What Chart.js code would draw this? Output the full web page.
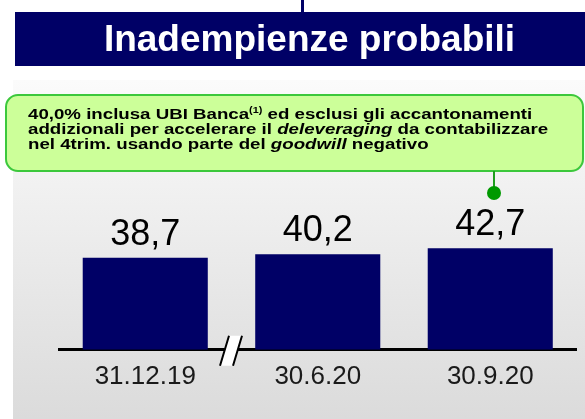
<!DOCTYPE html>
<html>
<head>
<meta charset="utf-8">
<script src="https://cdn.jsdelivr.net/npm/chart.js@4"></script>
<style>
  html, body { margin: 0; padding: 0; background: #fff; }
  canvas { display: block; }
</style>
</head>
<body>
<canvas id="myChart" width="585" height="419"></canvas>
<script>
const periods = ['31.12.19', '30.6.20', '30.9.20'];
const coverage = [38.7, 40.2, 42.7];

const titleText = 'Inadempienze probabili';
const noteLines = [
  [['40,0% inclusa UBI Banca', 'b'], ['(1)', 'sup'], [' ed esclusi gli accantonamenti', 'b']],
  [['addizionali per accelerare il ', 'b'], ['deleveraging', 'bi'], [' da contabilizzare', 'b']],
  [['nel 4trim. usando parte del ', 'b'], ['goodwill', 'bi'], [' negativo', 'b']],
];

const FONT = '"Liberation Sans", Arial, sans-serif';
const NAVY = '#000066';

const fmt = (v) => v.toFixed(1).replace('.', ',');

// page furniture: banner, grey panel, callout box
const backdrop = {
  id: 'backdrop',
  beforeDraw(chart) {
    const ctx = chart.ctx;
    ctx.save();
    ctx.fillStyle = '#fff';
    ctx.fillRect(0, 0, chart.width, chart.height);

    const grad = ctx.createLinearGradient(0, 80, 0, 419);
    grad.addColorStop(0, '#fbfbfb');
    grad.addColorStop(1, '#dbdbdb');
    ctx.fillStyle = grad;
    ctx.fillRect(13, 80, 572, 339);

    ctx.fillStyle = NAVY;
    ctx.fillRect(301, 0, 3, 13);
    ctx.fillRect(15, 12, 570, 54);
    ctx.fillStyle = '#fff';
    ctx.font = 'bold 37px ' + FONT;
    ctx.textAlign = 'center';
    ctx.textBaseline = 'alphabetic';
    ctx.fillText(titleText, 309.5, 51);

    // callout
    ctx.beginPath();
    ctx.roundRect(6, 95, 577, 76, 12);
    ctx.fillStyle = '#ccff99';
    ctx.fill();
    ctx.lineWidth = 2;
    ctx.strokeStyle = '#3cc83c';
    ctx.stroke();

    // note text is set a little wide
    ctx.textAlign = 'left';
    ctx.fillStyle = '#000';
    noteLines.forEach((runs, i) => {
      ctx.save();
      ctx.translate(28, 118.5 + i * 15);
      ctx.scale(1.205, 1);
      let x = 0;
      runs.forEach(([txt, style]) => {
        let dy = 0;
        if (style === 'sup') {
          ctx.font = 'bold 9px ' + FONT;
          dy = -6;
        } else if (style === 'bi') {
          ctx.font = 'italic bold 15.5px ' + FONT;
        } else {
          ctx.font = 'bold 15.5px ' + FONT;
        }
        ctx.fillText(txt, x, dy);
        x += ctx.measureText(txt).width;
      });
      ctx.restore();
    });

    ctx.strokeStyle = '#1e9e1e';
    ctx.lineWidth = 2;
    ctx.beginPath();
    ctx.moveTo(494, 171);
    ctx.lineTo(494, 193);
    ctx.stroke();
    ctx.fillStyle = '#009900';
    ctx.beginPath();
    ctx.arc(494, 193, 7, 0, Math.PI * 2);
    ctx.fill();
    ctx.restore();
  },
};

// value above each bar
const barValues = {
  id: 'barValues',
  afterDatasetsDraw(chart) {
    const ctx = chart.ctx;
    ctx.save();
    ctx.font = '36px ' + FONT;
    ctx.fillStyle = '#000';
    ctx.textAlign = 'center';
    ctx.textBaseline = 'alphabetic';
    chart.getDatasetMeta(0).data.forEach((bar, i) => {
      ctx.fillText(fmt(coverage[i]), bar.x, bar.y - 13);
    });
    ctx.restore();
  },
};

// axis break between first and second period
const axisBreak = {
  id: 'axisBreak',
  afterDraw(chart) {
    const ctx = chart.ctx;
    const xs = chart.scales.x;
    const cx = (xs.getPixelForValue(0) + xs.getPixelForValue(1)) / 2;
    const cy = chart.chartArea.bottom;
    ctx.save();
    ctx.beginPath();
    ctx.moveTo(cx - 11.5, cy + 16);
    ctx.lineTo(cx - 2.5, cy - 14);
    ctx.lineTo(cx + 10.5, cy - 14);
    ctx.lineTo(cx + 1.5, cy + 16);
    ctx.closePath();
    ctx.fillStyle = '#fff';
    ctx.fill();
    ctx.strokeStyle = '#000';
    ctx.lineWidth = 2;
    ctx.beginPath();
    ctx.moveTo(cx - 11.5, cy + 16);
    ctx.lineTo(cx - 2.5, cy - 14);
    ctx.moveTo(cx + 1.5, cy + 16);
    ctx.lineTo(cx + 10.5, cy - 14);
    ctx.stroke();
    ctx.restore();
  },
};

const ctx = document.getElementById('myChart').getContext('2d');
const myChart = new Chart(ctx, {
  type: 'bar',
  data: {
    labels: periods,
    datasets: [
      {
        data: coverage,
        backgroundColor: NAVY,
        borderWidth: 0,
        barPercentage: 0.725,
        categoryPercentage: 1,
      },
    ],
  },
  options: {
    responsive: false,
    animation: false,
    devicePixelRatio: 1,
    layout: { padding: { left: 59, right: 8.5, top: 231, bottom: 16 } },
    plugins: {
      legend: { display: false },
      tooltip: { enabled: false },
    },
    scales: {
      x: {
        z: 1,
        grid: { display: false, drawTicks: false, tickLength: 0 },
        border: { display: true, color: '#000', width: 3 },
        ticks: {
          padding: 11,
          color: '#1a1a1a',
          font: { family: FONT, size: 26 },
          maxRotation: 0,
        },
      },
      y: {
        display: false,
        min: 0,
        max: 50,
      },
    },
  },
  plugins: [backdrop, barValues, axisBreak],
});
</script>
</body>
</html>
